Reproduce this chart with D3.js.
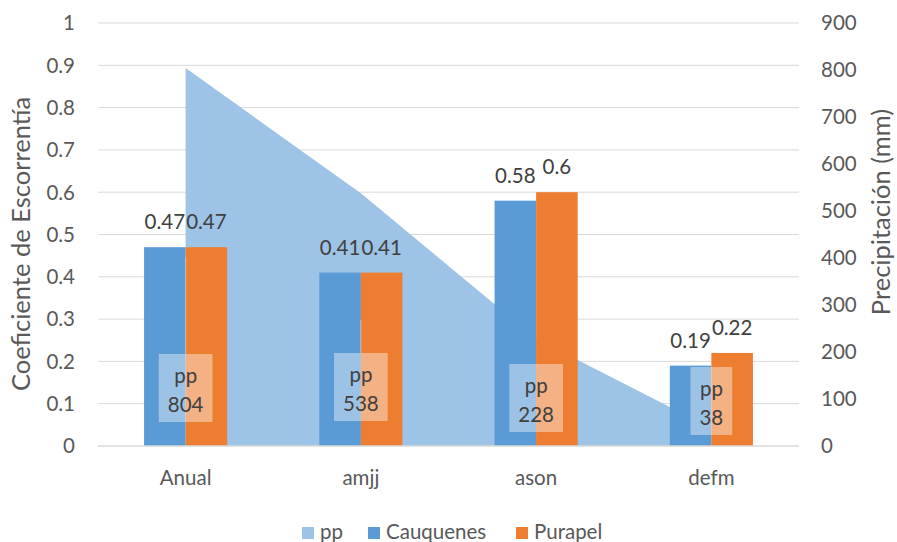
<!DOCTYPE html>
<html>
<head>
<meta charset="utf-8">
<script src="https://cdn.jsdelivr.net/npm/d3@7"></script>
<style>
  body { margin: 0; background: #fff; }
  svg { font-family: Lato, sans-serif; }
</style>
</head>
<body>
<div class="chart"></div>
<script>
// data
const categories = ["Anual", "amjj", "ason", "defm"];
const ppValues = [804, 538, 228, 38];
const cauquenes = [0.47, 0.41, 0.58, 0.19];
const purapel = [0.47, 0.41, 0.6, 0.22];
const leftTicks = [0, 0.1, 0.2, 0.3, 0.4, 0.5, 0.6, 0.7, 0.8, 0.9, 1];
const rightTicks = [0, 100, 200, 300, 400, 500, 600, 700, 800, 900];
const seriesNames = ["Cauquenes", "Purapel"];

// layout
const width = 897, height = 542;
const plotL = 98, plotR = 799, plotT = 23, plotB = 446;
const ppLabelLift = [58, 59, 48, 45];
const leaderLen = [97, 33, 0, 0];

const colors = { pp: "#9DC3E6", Cauquenes: "#5B9BD5", Purapel: "#ED7D31" };

const svg = d3.select(".chart").append("svg")
  .attr("width", width)
  .attr("height", height);

const x = d3.scaleBand().domain(categories).range([plotL, plotR]).padding(0);
const yL = d3.scaleLinear().domain([0, 1]).range([plotB, plotT]);
const yR = d3.scaleLinear().domain([0, 900]).range([plotB, plotT]);
const bw = x.bandwidth();
const barW = bw * 41.5 / 175;
const cx = c => x(c) + bw / 2;

// gridlines
svg.append("g").selectAll("line")
  .data(leftTicks.slice(1))
  .enter().append("line")
  .attr("x1", plotL).attr("x2", plotR)
  .attr("y1", d => yL(d)).attr("y2", d => yL(d))
  .attr("stroke", "#d9d9d9").attr("stroke-width", 1);

// pp area
const area = d3.area()
  .x((d, i) => cx(categories[i]))
  .y0(yR(0))
  .y1(d => yR(d));
svg.append("path")
  .datum(ppValues)
  .attr("d", area)
  .attr("fill", colors.pp);

// bars
const rows = categories.map((c, i) => ({ c, vals: [cauquenes[i], purapel[i]] }));
const xs = d3.scaleBand().domain(seriesNames).range([-barW, barW]);
const groups = svg.append("g").selectAll("g")
  .data(rows)
  .enter().append("g")
  .attr("transform", d => `translate(${cx(d.c)},0)`);

groups.selectAll("rect")
  .data(d => d.vals.map((v, j) => ({ name: seriesNames[j], v })))
  .enter().append("rect")
  .attr("x", d => xs(d.name))
  .attr("width", xs.bandwidth())
  .attr("y", d => yL(d.v))
  .attr("height", d => yL(0) - yL(d.v))
  .attr("fill", d => colors[d.name]);

groups.selectAll("text")
  .data(d => d.vals.map((v, j) => ({ name: seriesNames[j], v })))
  .enter().append("text")
  .attr("x", d => xs(d.name) + xs.bandwidth() / 2)
  .attr("y", d => yL(d.v) - 18)
  .attr("text-anchor", "middle")
  .attr("font-size", "20.5px")
  .attr("fill", "#404040")
  .text(d => d.v);

// baseline
svg.append("line")
  .attr("x1", plotL).attr("x2", plotR)
  .attr("y1", plotB).attr("y2", plotB)
  .attr("stroke", "#d9d9d9").attr("stroke-width", 1.5);

// pp data labels
const lab = svg.append("g").selectAll("g")
  .data(ppValues)
  .enter().append("g")
  .attr("transform", (d, i) => `translate(${cx(categories[i])},${yR(0) - ppLabelLift[i]})`);

lab.each(function(d, i) {
  const g = d3.select(this);
  const t = g.append("text")
    .attr("text-anchor", "middle")
    .attr("font-size", "20.5px")
    .attr("fill", "#404040");
  t.append("tspan").attr("x", 0).attr("y", -5).text("pp");
  t.append("tspan").attr("x", 0).attr("y", 24).text(d);
  const w = t.node().getBBox().width + 18;
  g.insert("rect", "text")
    .attr("x", -w / 2).attr("y", -34)
    .attr("width", w).attr("height", 68)
    .attr("fill", "#fff").attr("fill-opacity", 0.4);
  if (leaderLen[i] > 0) {
    g.insert("line", "rect")
      .attr("x1", 0).attr("x2", 0)
      .attr("y1", -34 - leaderLen[i]).attr("y2", -34)
      .attr("stroke", "#bfbfbf").attr("stroke-width", 1);
  }
});

// axes labels
svg.append("g").selectAll("text")
  .data(leftTicks)
  .enter().append("text")
  .attr("x", 75)
  .attr("y", d => yL(d))
  .attr("dy", "0.36em")
  .attr("text-anchor", "end")
  .attr("font-size", "20.5px")
  .attr("fill", "#595959")
  .text(d => d);

svg.append("g").selectAll("text")
  .data(rightTicks)
  .enter().append("text")
  .attr("x", 821)
  .attr("y", d => yR(d))
  .attr("dy", "0.36em")
  .attr("font-size", "20.5px")
  .attr("fill", "#595959")
  .text(d => d);

svg.append("g").selectAll("text")
  .data(categories)
  .enter().append("text")
  .attr("x", d => cx(d))
  .attr("y", 485)
  .attr("text-anchor", "middle")
  .attr("font-size", "20.5px")
  .attr("fill", "#595959")
  .text(d => d);

svg.append("text")
  .attr("transform", "translate(30,244) rotate(-90)")
  .attr("text-anchor", "middle")
  .attr("font-size", "25.5px")
  .attr("fill", "#595959")
  .text("Coeficiente de Escorrentía");

svg.append("text")
  .attr("transform", "translate(890,212) rotate(-90)")
  .attr("text-anchor", "middle")
  .attr("font-size", "25.5px")
  .attr("fill", "#595959")
  .text("Precipitación (mm)");

// legend
const legendItems = [
  { name: "pp", color: colors.pp, x: 302 },
  { name: "Cauquenes", color: colors.Cauquenes, x: 368 },
  { name: "Purapel", color: colors.Purapel, x: 516 }
];
const lg = svg.append("g").selectAll("g")
  .data(legendItems)
  .enter().append("g")
  .attr("transform", d => `translate(${d.x},527)`);
lg.append("rect")
  .attr("width", 12).attr("height", 12)
  .attr("fill", d => d.color);
lg.append("text")
  .attr("x", 18).attr("y", 12)
  .attr("font-size", "20.5px")
  .attr("fill", "#595959")
  .text(d => d.name);
</script>
</body>
</html>
